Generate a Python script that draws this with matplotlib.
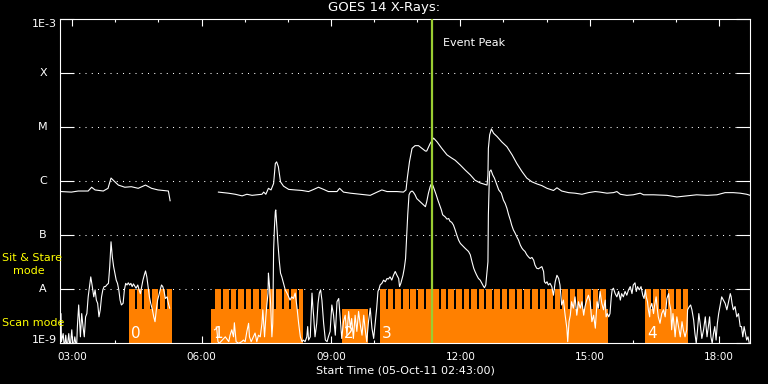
import numpy as np
import matplotlib
matplotlib.use("Agg")
import matplotlib.pyplot as plt
from matplotlib.ticker import FixedLocator, NullLocator
from matplotlib import transforms

# GOES 14 X-ray flux, 05-Oct-2011. time in decimal hours UT, flux as log10(W/m^2)
long_hr = [2.74, 2.98, 3.14, 3.37, 3.45, 3.53, 3.72, 3.83, 3.90, 3.99, 4.07, 4.22, 4.37,
           4.53, 4.70, 4.84, 4.99, 5.23, 5.27, 5.30,
           6.39, 6.62, 6.78, 6.94, 7.05, 7.17, 7.40, 7.44, 7.49, 7.55, 7.61, 7.67, 7.71,
           7.74, 7.78, 7.83, 7.90, 8.02, 8.17, 8.33, 8.48, 8.60, 8.71, 8.83, 8.94, 9.14,
           9.20, 9.29, 9.45, 9.68, 9.91, 10.07, 10.18, 10.30, 10.53, 10.68, 10.74, 10.77,
           10.82, 10.88, 10.95, 11.03, 11.11, 11.19, 11.22, 11.30, 11.38, 11.46, 11.57,
           11.69, 11.80, 11.88, 12.00, 12.11, 12.23, 12.34, 12.46, 12.58, 12.62, 12.64,
           12.65, 12.68, 12.72, 12.77, 12.85, 12.96, 13.08, 13.20, 13.31, 13.43, 13.54,
           13.66, 13.78, 13.89, 14.01, 14.16, 14.24, 14.35, 14.51, 14.66, 14.82, 14.97,
           15.13, 15.24, 15.40, 15.55, 15.63, 15.71, 15.86, 16.01, 16.17, 16.25, 16.48,
           16.79, 17.02, 17.25, 17.48, 17.72, 17.95, 18.14, 18.33, 18.49, 18.64, 18.72]
long_log = [-6.19, -6.20, -6.18, -6.18, -6.11, -6.16, -6.18, -6.13, -5.94, -6.01, -6.07, -6.11, -6.10,
            -6.13, -6.07, -6.13, -6.16, -6.18, -6.36, np.nan,
            -6.20, -6.22, -6.24, -6.27, -6.24, -6.26, -6.24, -6.20, -6.24, -6.13, -6.16, -6.04, -5.67,
            -5.64, -5.73, -6.01, -6.09, -6.15, -6.16, -6.17, -6.19, -6.15, -6.11, -6.15, -6.19, -6.19,
            -6.13, -6.20, -6.22, -6.24, -6.26, -6.20, -6.16, -6.19, -6.19, -6.20, -6.16, -5.94,
            -5.64, -5.39, -5.34, -5.34, -5.39, -5.44, -5.44, -5.30, -5.20, -5.27, -5.39,
            -5.51, -5.57, -5.61, -5.70, -5.79, -5.88, -5.98, -6.03, -6.06, -6.07, -5.88,
            -5.39, -5.14, -5.03, -5.11, -5.17, -5.27, -5.36, -5.51, -5.67, -5.82, -5.94,
            -6.01, -6.05, -6.08, -6.13, -6.17, -6.12, -6.18, -6.21, -6.22, -6.24, -6.21,
            -6.19, -6.20, -6.22, -6.21, -6.19, -6.24, -6.26, -6.25, -6.22, -6.25, -6.25,
            -6.26, -6.29, -6.27, -6.25, -6.26, -6.25, -6.21, -6.21, -6.22, -6.24, -6.26]

short_hr = [2.72, 2.74, 2.75, 2.79, 2.82, 2.85, 2.88, 2.92, 2.95, 2.99, 3.02, 3.06, 3.10, 3.12,
            3.15, 3.17, 3.19, 3.22, 3.25, 3.28, 3.31, 3.34, 3.37, 3.40, 3.43, 3.46, 3.50, 3.53,
            3.56, 3.59, 3.62, 3.65, 3.68, 3.71, 3.74, 3.77, 3.80, 3.84, 3.87, 3.90, 3.93, 3.96,
            3.99, 4.02, 4.05, 4.08, 4.11, 4.14, 4.18, 4.21, 4.24, 4.27, 4.30, 4.33, 4.36, 4.39,
            4.42, 4.45, 4.48, 4.52, 4.55, 4.58, 4.61, 4.64, 4.67, 4.70, 4.73, 4.76, 4.79, 4.82,
            4.86, 4.89, 4.92, 4.95, 4.98, 5.01, 5.04, 5.07, 5.10, 5.13, 5.16, 5.20, 5.23, 5.26,
            5.80,
            6.30, 6.35, 6.38, 6.41, 6.55, 6.63, 6.66, 6.70, 6.74, 6.76, 6.80, 6.86, 6.93, 6.97,
            7.01, 7.05, 7.09, 7.11, 7.15, 7.20, 7.24, 7.28, 7.32, 7.36, 7.40, 7.42, 7.44, 7.46,
            7.49, 7.51, 7.54, 7.55, 7.57, 7.60, 7.63, 7.65, 7.67, 7.69, 7.71, 7.72, 7.75, 7.77,
            7.80, 7.83, 7.86, 7.90, 7.94, 7.98, 8.02, 8.05, 8.09, 8.13, 8.17, 8.21, 8.25, 8.29,
            8.33, 8.36, 8.40, 8.44, 8.46, 8.48, 8.52, 8.56, 8.58, 8.60, 8.63, 8.67, 8.70, 8.73,
            8.76, 8.79, 8.83, 8.87, 8.91, 8.94,
            8.98, 9.02, 9.06, 9.10, 9.14, 9.18, 9.21, 9.25, 9.29, 9.33, 9.37, 9.41, 9.45, 9.48,
            9.52, 9.56, 9.60, 9.64, 9.68, 9.72, 9.76, 9.79, 9.83, 9.87, 9.91, 9.95, 9.99, 10.03,
            10.06, 10.09, 10.12, 10.14, 10.18, 10.22, 10.26, 10.30, 10.33, 10.37, 10.41, 10.45,
            10.49, 10.53, 10.57, 10.59, 10.62, 10.67, 10.70, 10.73, 10.75, 10.78, 10.81, 10.84,
            10.88, 10.91, 10.95, 10.99, 11.03, 11.07, 11.11, 11.15, 11.19, 11.22, 11.26, 11.30,
            11.32, 11.36, 11.40, 11.44, 11.48, 11.52, 11.56, 11.59, 11.65, 11.69, 11.73, 11.76,
            11.80, 11.84, 11.88, 11.92, 11.96, 12.00,
            12.11, 12.19, 12.23, 12.27, 12.31, 12.34, 12.38, 12.42, 12.46, 12.50, 12.54, 12.56,
            12.59, 12.61, 12.64, 12.65, 12.67, 12.68, 12.71, 12.75, 12.79, 12.85, 12.89, 12.95,
            13.00, 13.04, 13.08, 13.12, 13.16, 13.19, 13.23, 13.27, 13.31, 13.35, 13.39, 13.43,
            13.46, 13.50, 13.54, 13.58, 13.62, 13.66, 13.70, 13.73, 13.77, 13.81, 13.85, 13.89,
            13.93, 13.95, 13.98, 14.01, 14.04, 14.08, 14.12, 14.16, 14.20, 14.24, 14.28, 14.31,
            14.35, 14.39, 14.43, 14.47, 14.49, 14.52, 14.55, 14.58, 14.62, 14.66, 14.70, 14.74,
            14.78, 14.82, 14.86, 14.89, 14.93, 14.97, 15.01, 15.05, 15.09, 15.13, 15.17, 15.20,
            15.24, 15.28, 15.32, 15.36, 15.38, 15.41, 15.44, 15.47, 15.50, 15.52, 15.55, 15.59,
            15.63, 15.67, 15.71, 15.74, 15.78, 15.82, 15.86, 15.90, 15.94, 15.98, 16.01, 16.05,
            16.08, 16.11, 16.15, 16.19, 16.23, 16.26, 16.29, 16.31, 16.34, 16.36, 16.39, 16.40,
            16.44, 16.48, 16.50, 16.54, 16.57, 16.59, 16.63, 16.67, 16.71, 16.75, 16.79, 16.83,
            16.85, 16.88, 16.90, 16.93, 16.96, 16.98, 17.02, 17.06, 17.10, 17.14, 17.17, 17.21,
            17.25, 17.27, 17.31, 17.34, 17.37, 17.41, 17.44, 17.47, 17.50, 17.53, 17.56, 17.60,
            17.64, 17.68, 17.72, 17.75, 17.78, 17.81, 17.84, 17.87, 17.90, 17.93, 17.96, 17.99,
            18.02, 18.06, 18.10, 18.14, 18.18, 18.22, 18.26, 18.28, 18.30, 18.33, 18.37, 18.41,
            18.45, 18.49, 18.52, 18.55, 18.58, 18.61, 18.64, 18.67, 18.70]
short_log = [-9.10, -8.45, -8.97, -8.82, -9.10, -8.85, -9.10, -8.82, -9.10, -8.75, -9.10, -8.88, -9.10, -8.69,
             -8.29, -8.57, -8.88, -8.45, -8.69, -8.88, -8.51, -8.45, -8.14, -7.95, -7.77, -7.92, -8.14, -8.01,
             -8.20, -8.26, -8.51, -8.38, -8.14, -8.01, -7.95, -7.95, -7.92, -7.89, -7.58, -7.12, -7.40, -7.58,
             -7.71, -7.83, -7.89, -8.01, -8.20, -8.29, -8.26, -8.01, -7.89, -7.92, -7.88, -7.92, -7.89, -7.95,
             -7.90, -7.94, -7.98, -7.92, -8.01, -8.08, -7.95, -7.83, -7.74, -7.66, -7.77, -7.95, -8.14, -8.26,
             -8.38, -8.51, -8.60, -8.38, -8.20, -8.11, -8.01, -7.92, -7.95, -8.04, -8.17, -8.14, -8.26, -8.35,
             np.nan,
             -8.75, -8.72, -8.97, -9.00, -8.88, -8.97, -8.85, -8.75, -8.88, -8.62, -8.97, -9.00, -8.97, -8.94,
             -8.97, -8.78, -8.63, -8.88, -8.97, -8.88, -8.81, -8.97, -8.85, -8.88, -8.63, -8.38, -8.63, -8.88,
             -8.51, -8.32, -8.07, -7.70, -7.89, -8.26, -8.88, -8.63, -7.27, -6.84, -6.56, -6.53, -6.90, -7.15,
             -7.46, -7.70, -7.77, -7.89, -8.01, -8.07, -8.14, -8.20, -8.14, -8.17, -8.07, -8.32, -8.63, -8.88,
             -8.97, -8.94, -8.97, -8.88, -8.69, -8.94, -8.88, -8.07, -8.32, -8.51, -8.88, -8.63, -8.26, -8.07,
             -8.01, -8.20, -8.63, -8.94, -8.97, -8.88,
             -8.78, -8.29, -8.48, -8.85, -8.23, -8.17, -8.48, -8.91, -8.60, -8.48, -8.85, -8.41, -8.72, -8.54,
             -8.91, -8.48, -8.78, -8.41, -8.66, -8.85, -8.48, -8.72, -8.97, -8.60, -8.35, -8.72, -8.91, -8.60,
             -8.35, -8.04, -7.98, -7.92, -7.89, -7.83, -7.86, -7.80, -7.81, -7.77, -7.83, -7.74,
             -7.67, -7.74, -7.80, -7.95, -7.89, -7.74, -7.61, -7.43, -7.12, -6.62, -6.25, -6.20,
             -6.18, -6.20, -6.25, -6.32, -6.35, -6.38, -6.41, -6.44, -6.47, -6.38, -6.22, -6.10,
             -6.06, -6.07, -6.16, -6.25, -6.35, -6.44, -6.53, -6.62, -6.66, -6.70, -6.69, -6.74,
             -6.76, -6.81, -6.90, -7.00, -7.09, -7.15,
             -7.24, -7.30, -7.36, -7.49, -7.61, -7.67, -7.74, -7.80, -7.83, -7.89, -7.95, -7.97,
             -7.92, -7.74, -7.49, -6.62, -6.01, -5.82, -5.79, -5.88, -5.94, -6.07, -6.16, -6.22,
             -6.35, -6.41, -6.50, -6.62, -6.72, -6.81, -6.90, -6.96, -7.03, -7.09, -7.18, -7.24,
             -7.27, -7.30, -7.36, -7.40, -7.43, -7.41, -7.46, -7.55, -7.61, -7.62, -7.60, -7.58,
             -7.67, -7.86, -7.89, -7.86, -7.92, -7.89, -7.95, -8.11, -7.86, -7.74, -7.80, -7.92,
             -8.29, -8.20, -8.48, -8.72, -8.97, -8.60, -8.48, -8.23, -8.35, -8.14, -8.48, -8.23,
             -8.35, -8.23, -8.48, -8.32, -8.20, -8.11, -8.23, -8.60, -8.48, -8.72, -8.23, -8.35,
             -8.04, -8.26, -8.38, -8.20, -8.51, -8.45, -8.51, -8.45, -8.14, -8.01, -7.98, -8.08,
             -8.14, -8.04, -8.20, -8.08, -8.14, -8.04, -8.11, -8.01, -7.95, -8.08, -7.92, -7.88,
             -8.04, -7.95, -8.01, -7.95, -8.11, -8.17, -8.01, -8.14, -8.23, -8.38, -8.51, -8.35,
             -8.26, -8.45, -8.32, -8.14, -8.38, -8.51, -8.63, -8.45, -8.38, -8.51, -8.17, -8.08,
             -8.26, -8.38, -8.75, -8.45, -8.69, -8.88, -8.51, -8.69, -8.88, -8.60, -8.75, -8.88,
             -8.75, -8.38, -8.32, -8.29, -8.38, -8.57, -8.82, -9.00, -8.75, -8.45, -8.63, -8.91,
             -8.75, -8.51, -8.88, -8.69, -8.51, -8.88, -9.00, -8.82, -8.69, -8.94, -8.63, -8.45,
             -8.32, -8.14, -8.20, -8.26, -8.38, -8.23, -8.08, -8.14, -8.26, -8.38, -8.32, -8.51,
             -8.45, -8.69, -8.69, -8.88, -8.69, -8.82, -8.94, -8.88, -9.00]

level_names = ['1E-9', 'A', 'B', 'C', 'M', 'X', '1E-3']
level_flux = [1e-9, 1e-8, 1e-7, 1e-6, 1e-5, 1e-4, 1e-3]

# observing mode blocks (hours UT)
scan_labels = ['0', '1', '2', '3', '4']
scan_start = [4.32, 6.22, 9.26, 10.14, 16.29]
scan_end = [5.32, 8.34, 9.85, 15.43, 17.28]
stare_start = [4.32, 6.32, None, 10.14, 16.29]
stare_period = 0.176
stare_dwell = 0.13
scan_top = 4.3e-9
stare_top = 1e-8

event_peak = 11.35
t_start, t_end = 2.7167, 18.7167
hour_ticks = [3, 6, 9, 12, 15, 18]
hour_labels = ['03:00', '06:00', '09:00', '12:00', '15:00', '18:00']

orange = '#ff8000'
yellow = '#ffff00'


def main():
    W, H = 768, 384
    fig = plt.figure(figsize=(W / 100, H / 100), dpi=100, facecolor='black')
    ax = fig.add_axes([60 / W, 40.7 / H, 690 / W, 324 / H])
    ax.set_facecolor('black')
    ax.set_yscale('log')
    ax.set_xlim(t_start, t_end)
    ax.set_ylim(level_flux[0], level_flux[-1])

    # mode blocks: scan base plus sit & stare dwells
    for s, e, c in zip(scan_start, scan_end, stare_start):
        ax.bar(s, scan_top - level_flux[0], width=e - s, bottom=level_flux[0],
               align='edge', color=orange, lw=0, zorder=2, antialiased=False)
        if c is None:
            continue
        t = c
        while t < e:
            ax.bar(t, stare_top - level_flux[0], width=min(stare_dwell, e - t),
                   bottom=level_flux[0], align='edge', color=orange, lw=0, zorder=2,
                   antialiased=False)
            t += stare_period
    for s, lab in zip(scan_start, scan_labels):
        ax.annotate(lab, xy=(s, 1.23e-9), xytext=(1.5, 0), textcoords='offset points',
                    color='white', fontsize=11, ha='left', va='baseline', zorder=5)

    for f in level_flux[1:-1]:
        ax.axhline(f, color='white', lw=0.75, ls=(0, (1, 5)), zorder=1)

    ax.plot(long_hr, 10 ** np.array(long_log), color='white', lw=0.8, zorder=3)
    ax.plot(short_hr, 10 ** np.array(short_log), color='white', lw=0.8, zorder=3)

    ax.axvline(event_peak, color='#9acd32', lw=1.6, zorder=4)
    ax.annotate('Event Peak', xy=(event_peak, 0.927), xycoords=('data', 'axes fraction'),
                xytext=(7.5, 0), textcoords='offset points', color='white',
                fontsize=8, va='center', ha='left')

    for sp in ax.spines.values():
        sp.set_color('white')
        sp.set_linewidth(0.8)

    ax.xaxis.set_major_locator(FixedLocator(hour_ticks))
    ax.set_xticklabels(hour_labels)
    ax.xaxis.set_minor_locator(FixedLocator(list(range(3, 19))))
    ax.tick_params(axis='x', which='major', direction='in', length=5, width=0.8,
                   color='white', labelcolor='white', labelsize=7.5, top=True, pad=6)
    ax.tick_params(axis='x', which='minor', direction='in', length=2.2, width=0.8,
                   color='white', top=True)

    ax.yaxis.set_major_locator(FixedLocator(level_flux))
    ax.yaxis.set_minor_locator(NullLocator())
    ax.tick_params(axis='y', which='major', direction='in', length=10, width=0.8,
                   color='white', left=True, right=True, labelleft=False)

    trans = transforms.blended_transform_factory(ax.transAxes, ax.transData)
    for name, f in zip(level_names, level_flux):
        if name == '1E-3':
            ax.text(-0.004, f, name, transform=trans, color='white', fontsize=8,
                    ha='right', va='top')
        elif name == '1E-9':
            ax.text(-0.004, f, name, transform=trans, color='white', fontsize=8,
                    ha='right', va='baseline')
        else:
            ax.text(-0.0246, f, name, transform=trans, color='white', fontsize=8,
                    ha='center', va='center')

    ax.set_xlabel('Start Time (05-Oct-11 02:43:00)', color='white', fontsize=8, labelpad=3)

    fig.text(384 / W, 1 - 8 / H, 'GOES 14 X-Rays:', color='white', fontsize=9.5,
             ha='center', va='center')
    fig.text(2 / W, 1 - 258 / H, 'Sit & Stare', color=yellow, fontsize=8,
             ha='left', va='center')
    fig.text(13 / W, 1 - 271 / H, 'mode', color=yellow, fontsize=8, ha='left', va='center')
    fig.text(2 / W, 1 - 323 / H, 'Scan mode', color=yellow, fontsize=8, ha='left', va='center')

    fig.savefig('out.png', dpi=100, facecolor='black')


if __name__ == "__main__":
    main()
